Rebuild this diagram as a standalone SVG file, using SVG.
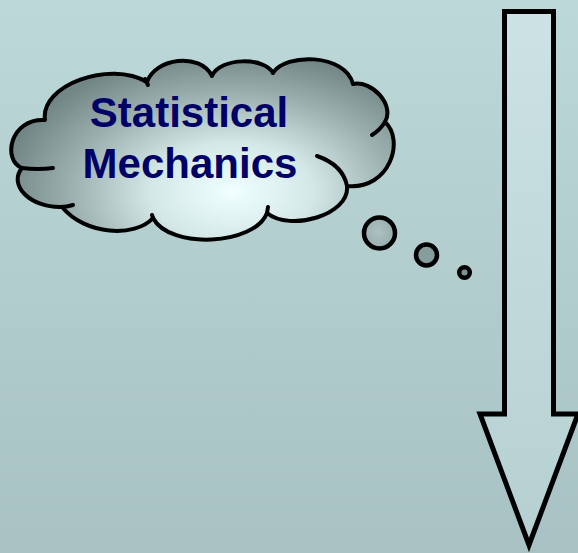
<svg xmlns="http://www.w3.org/2000/svg" width="578" height="553" viewBox="0 0 578 553">
  <defs>
    <linearGradient id="bg" x1="0" y1="0" x2="0" y2="1">
      <stop offset="0" stop-color="#bdd8d9"/>
      <stop offset="1" stop-color="#a8c2c3"/>
    </linearGradient>
    <linearGradient id="arrowFill" x1="0" y1="0" x2="0" y2="1">
      <stop offset="0" stop-color="#cce2e4"/>
      <stop offset="1" stop-color="#b6d0d2"/>
    </linearGradient>
    <radialGradient id="cloudFill" gradientUnits="userSpaceOnUse" cx="0" cy="0" r="1" gradientTransform="translate(232,192) scale(230,140)">
      <stop offset="0" stop-color="#f0ffff"/>
      <stop offset="0.35" stop-color="#d4e8e8"/>
      <stop offset="0.7" stop-color="#9db0b0"/>
      <stop offset="1" stop-color="#738686"/>
    </radialGradient>
    <radialGradient id="bubbleFill" cx="0.45" cy="0.45" r="0.6">
      <stop offset="0" stop-color="#adc1c1"/>
      <stop offset="1" stop-color="#96abab"/>
    </radialGradient>
  </defs>
  <style>
    .outline { stroke: #000; stroke-width: 4; fill: none; stroke-linecap: round; stroke-linejoin: round; }
    .label { font-family: "Liberation Sans", Arial, sans-serif; font-weight: bold; font-size: 42px; fill: #000066; text-anchor: middle; }
    .bubble { stroke: #000; stroke-width: 4.5; fill: url(#bubbleFill); }
  </style>

  <rect x="0" y="0" width="578" height="553" fill="url(#bg)"/>

  <g id="arrow">
    <path d="M504.5,11.5 H553.5 V414 H578 L529,545 L480,414 H504.5 Z" fill="url(#arrowFill)" stroke="#000" stroke-width="5" stroke-linejoin="miter" stroke-miterlimit="10"/>
  </g>

  <g id="cloud">
    <path d="M45,120 C40,85 110,60 147,82 C155,58 200,52 212,76 C220,57 265,57 273,73 C285,53 345,53 353,84 C372,80 395,105 385,122 C405,140 390,190 347,186 C350,215 290,232 267,213 C255,245 170,250 153,218 C135,238 85,235 62,207 C30,208 8,185 22,168 C2,160 10,118 45,120 Z" fill="url(#cloudFill)" stroke="#000" stroke-width="4" stroke-linejoin="round"/>
    <path class="outline" d="M22,168 Q38,170 53,168"/>
    <path class="outline" d="M60,207 Q67,207 73,205"/>
    <path class="outline" d="M145,79 L148,85"/>
    <path class="outline" d="M385,122 Q380,130 372,135"/>
    <path class="outline" d="M347,186 Q343,165 317,156"/>
    <path class="outline" d="M267,213 L268,207"/>
    <path class="outline" d="M153,218 L152,215"/>
    <text class="label" x="189" y="127">Statistical</text>
    <text class="label" x="190" y="178">Mechanics</text>
  </g>

  <g id="connectors">
    <circle class="bubble" cx="379.5" cy="233" r="15.5"/>
    <circle class="bubble" cx="426.5" cy="255" r="10.5" style="fill:#879c9c"/>
    <circle class="bubble" cx="464.5" cy="272.5" r="5.3" style="fill:#7d9292"/>
  </g>
</svg>
